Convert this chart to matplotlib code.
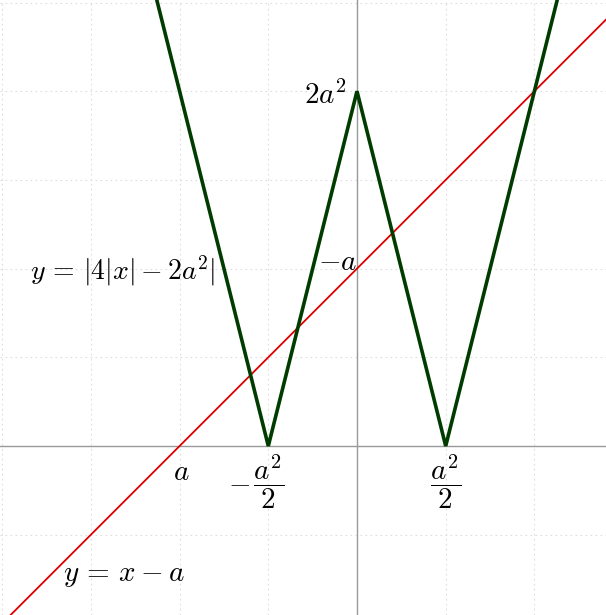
import numpy as np
import matplotlib
matplotlib.use("Agg")
import matplotlib.pyplot as plt

plt.rcParams['mathtext.fontset'] = 'cm'

# vertices of y = |4|x| - 2a^2|  (a^2 = 2)
v_x = [-2.3, -1, 0, 1, 2.3]
v_y = [5.2, 0, 4, 0, 5.2]

# y = x - a line endpoints
l_x = [-4.2, 3.0]
l_y = [-2.2, 5.0]

grid_x = [-4, -3, -2, -1, 1, 2]
grid_y = [-1, 1, 2, 3, 4, 5]

fig = plt.figure(figsize=(6.06, 6.15), dpi=100)
ax = fig.add_axes([0, 0, 1, 1])
u = 88.7
ax.set_xlim(-357 / u, 249 / u)
ax.set_ylim(-169 / u, 446 / u)
ax.axis('off')

for gx in grid_x:
    ax.axvline(gx, color='#dddddd', lw=0.8, ls=(0, (1.5, 3)), zorder=0)
for gy in grid_y:
    ax.axhline(gy, color='#dddddd', lw=0.8, ls=(0, (1.5, 3)), zorder=0)
ax.axhline(0, color='#999999', lw=1.0, zorder=1)
ax.axvline(0, color='#999999', lw=1.0, zorder=1)

ax.plot(l_x, l_y, color='#dd0000', lw=1.3, zorder=2)
ax.plot(v_x, v_y, color='#003c00', lw=2.6, zorder=3, solid_joinstyle='miter')

fs = 21
ax.text(-0.11, 3.95, r'$2a^2$', fontsize=fs, ha='right', va='center')
ax.text(0.0, 1.92, r'$-a$', fontsize=fs, ha='right', va='bottom')
ax.text(-2.64, 1.98, r'$y\,=\,|4|x|-2a^2|$', fontsize=20, ha='center', va='center')
ax.text(-1.98, -0.13, r'$a$', fontsize=fs, ha='center', va='top')
ax.text(-1.0, -0.08, r'$\dfrac{a^2}{2}$', fontsize=fs, ha='center', va='top')
ax.text(-1.2, -0.42, r'$-$', fontsize=fs, ha='right', va='center')
ax.text(1.0, -0.08, r'$\dfrac{a^2}{2}$', fontsize=fs, ha='center', va='top')
ax.text(-2.63, -1.45, r'$y\,=\,x-a$', fontsize=fs, ha='center', va='center')

fig.savefig('out.png', dpi=100)
